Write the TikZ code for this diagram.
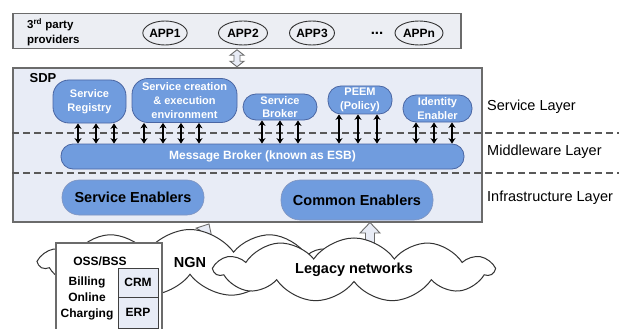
\documentclass[tikz,border=0pt]{standalone}
\usepackage{fontspec}
\setmainfont{Liberation Sans}
\usetikzlibrary{arrows.meta,shapes.symbols,shapes.geometric,calc}

\newlength{\du}
\setlength{\du}{1pt}

\definecolor{panelfill}{rgb}{0.925,0.933,0.953}
\definecolor{sdpfill}{rgb}{0.910,0.925,0.965}
\definecolor{enablerblue}{rgb}{0.439,0.612,0.871}
\definecolor{enablerline}{rgb}{0.290,0.400,0.640}
\definecolor{framegray}{rgb}{0.420,0.420,0.420}
\definecolor{dashgray}{rgb}{0.350,0.350,0.350}

\tikzset{
  panel/.style={draw=framegray, line width=1.2\du, fill=panelfill, inner sep=0pt},
  sdpbox/.style={draw=framegray, line width=1.2\du, fill=sdpfill, inner sep=0pt},
  appnode/.style={ellipse, draw=black!80, line width=0.9\du, inner sep=0pt,
    font=\fontsize{12}{14}\selectfont\bfseries},
  svcnode/.style={draw=enablerline, line width=0.8\du, fill=enablerblue, text=white,
    align=center, inner sep=0pt, rounded corners=13\du,
    font=\fontsize{11}{13.7}\selectfont\bfseries},
  enabler/.style={draw=enablerline!70, line width=0.6\du, fill=enablerblue, text=black,
    inner sep=0pt, rounded corners=17\du, font=\fontsize{14.5}{16}\selectfont\bfseries},
  layerline/.style={draw=dashgray, line width=1.2\du, dash pattern=on 7\du off 4\du},
  layertxt/.style={anchor=west, inner sep=0pt, font=\fontsize{14.5}{16}\selectfont},
  busarrow/.style={{Stealth[length=5.5pt,width=7pt]}-{Stealth[length=5.5pt,width=7pt]},
    line width=1.3\du, black},
  hollowarrow/.style={draw=framegray, fill=sdpfill, line width=0.9\du, line join=miter},
  netcloud/.style={cloud, cloud puffs=11, cloud puff arc=110, cloud ignores aspect,
    draw=black!80, fill=white, line width=1\du, inner sep=0pt,
    font=\fontsize{14.5}{16}\selectfont\bfseries},
  ossbox/.style={draw=framegray, line width=1.2\du, fill=white, inner sep=0pt},
  subbox/.style={draw=black!75, line width=1\du, fill=sdpfill, inner sep=0pt,
    font=\fontsize{12}{14}\selectfont\bfseries},
  plain/.style={inner sep=0pt, font=\fontsize{12}{15}\selectfont\bfseries}
}

\begin{document}
\begin{tikzpicture}
\pgftransformxscale{1.000000}
\pgftransformyscale{-1.000000}
\useasboundingbox (0\du,0\du) rectangle (619\du,329\du);
% third party panel
\node[panel, minimum width=448\du, minimum height=35\du] (providers) at (237\du,31\du) {};
\node[plain, align=left, anchor=west, font=\fontsize{11.5}{15}\selectfont\bfseries] (provlabel) at (27\du,32.5\du) {3\textsuperscript{rd} party\\providers};
\node[appnode, minimum width=43\du, minimum height=24\du] (app1) at (165\du,33\du) {APP1};
\node[appnode, minimum width=49\du, minimum height=24\du] (app2) at (243\du,33\du) {APP2};
\node[appnode, minimum width=45\du, minimum height=24\du] (app3) at (312\du,33\du) {APP3};
\node[plain, font=\fontsize{15}{16}\selectfont\bfseries] (dots) at (377\du,33.5\du) {...};
\node[appnode, minimum width=48\du, minimum height=24\du] (appn) at (419\du,33\du) {APPn};
% SDP
\node[sdpbox, minimum width=469\du, minimum height=154\du] (sdp) at (247.5\du,145\du) {};
\node[plain, font=\fontsize{13}{15}\selectfont\bfseries] (sdplabel) at (43\du,78\du) {SDP};
\coordinate (apilink) at ($(providers.south)!.5!(providers.south |- sdp.north)$);
\begin{scope}[shift={(apilink)}]
\draw[hollowarrow] (0,-8.5\du) -- (7\du,-3\du) -- (3\du,-3\du) -- (3\du,3\du) -- (7\du,3\du) -- (0,8.5\du)
  -- (-7\du,3\du) -- (-3\du,3\du) -- (-3\du,-3\du) -- (-7\du,-3\du) -- cycle;
\end{scope}
% service layer
\node[svcnode, minimum width=73\du, minimum height=43\du, rounded corners=16\du] (reg) at (89.5\du,101.5\du) {Service\\Registry};
\node[svcnode, minimum width=105\du, minimum height=44\du, rounded corners=16\du] (cre) at (184.5\du,100.5\du) {Service creation\\\& execution\\environment};
\node[svcnode, minimum width=74\du, minimum height=26\du] (brk) at (280\du,107\du) {Service\\Broker};
\node[svcnode, minimum width=64\du, minimum height=28\du] (peem) at (360\du,100\du) {PEEM\\(Policy)};
\node[svcnode, minimum width=69\du, minimum height=27\du] (idn) at (437.5\du,108.5\du) {Identity\\Enabler};
% middleware
\node[svcnode, minimum width=403\du, minimum height=25\du, rounded corners=12\du, font=\fontsize{12}{14}\selectfont\bfseries] (esb) at (262.5\du,156.5\du) {Message Broker (known as ESB)};
% infrastructure
\node[enabler, minimum width=142\du, minimum height=35\du] (senab) at (133\du,197.5\du) {Service Enablers};
\node[enabler, minimum width=152\du, minimum height=40\du, rounded corners=19\du] (cenab) at (357\du,200\du) {Common Enablers};
% layer lines
\coordinate (svcend) at (619\du,133\du);
\coordinate (midend) at (619\du,173\du);
\draw[layerline] (sdp.west |- svcend) -- (svcend);
\draw[layerline] (sdp.west |- midend) -- (midend);
\node[layertxt] (svclayer) at (487\du,107\du) {Service Layer};
\node[layertxt] (midlayer) at (487\du,152\du) {Middleware Layer};
\node[layertxt] (inflayer) at (487\du,198\du) {Infrastructure Layer};
% bus connections
\foreach \dx in {-11.5,6.5,24.5}
  \draw[busarrow] ($(reg.south)+(\dx\du,0)$) -- ($(reg.south |- esb.north)+(\dx\du,0)$);
\foreach \dx in {-40.5,-21.5,-3.5,14.5}
  \draw[busarrow] ($(cre.south)+(\dx\du,0)$) -- ($(cre.south |- esb.north)+(\dx\du,0)$);
\foreach \dx in {-18,0,18}
  \draw[busarrow] ($(brk.south)+(\dx\du,0)$) -- ($(brk.south |- esb.north)+(\dx\du,0)$);
\foreach \dx in {-21,-2,17}
  \draw[busarrow] ($(peem.south)+(\dx\du,0)$) -- ($(peem.south |- esb.north)+(\dx\du,0)$);
\foreach \dx in {-21.5,-3.5,14.5}
  \draw[busarrow] ($(idn.south)+(\dx\du,0)$) -- ($(idn.south |- esb.north)+(\dx\du,0)$);
% network links
\coordinate (ngnlink) at (198\du,243\du);
\coordinate (leglink) at (370\du,250\du);
\begin{scope}[shift={(ngnlink)}, rotate=30]
\draw[hollowarrow] (-4\du,0) -- (-4\du,-12\du) -- (-9\du,-12\du) -- (0,-22\du) -- (9\du,-12\du)
  -- (4\du,-12\du) -- (4\du,0) -- cycle;
\end{scope}
\begin{scope}[shift={(leglink)}]
\draw[hollowarrow] (-4.5\du,0) -- (-4.5\du,-17\du) -- (-10\du,-17\du) -- (0,-27.5\du) -- (10\du,-17\du)
  -- (4.5\du,-17\du) -- (4.5\du,0) -- cycle;
\end{scope}
% networks
\node[netcloud, minimum width=300\du, minimum height=67\du] (ngn) at (190\du,263\du) {NGN};
\node[ossbox, minimum width=106\du, minimum height=90\du] (oss) at (109\du,288\du) {};
\node[plain] (osslabel) at (100\du,261\du) {OSS/BSS};
\node[plain, align=center, font=\fontsize{12}{16}\selectfont\bfseries] (billing) at (87\du,298\du) {Billing\\Online\\Charging};
\node[subbox, minimum width=40\du, minimum height=29\du] (crm) at (138\du,282.5\du) {CRM};
\node[subbox, minimum width=40\du, minimum height=31\du] (erp) at (138\du,312.5\du) {ERP};
\node[netcloud, minimum width=278\du, minimum height=64\du] (legacy) at (354\du,270\du) {Legacy networks};
\end{tikzpicture}
\end{document}
